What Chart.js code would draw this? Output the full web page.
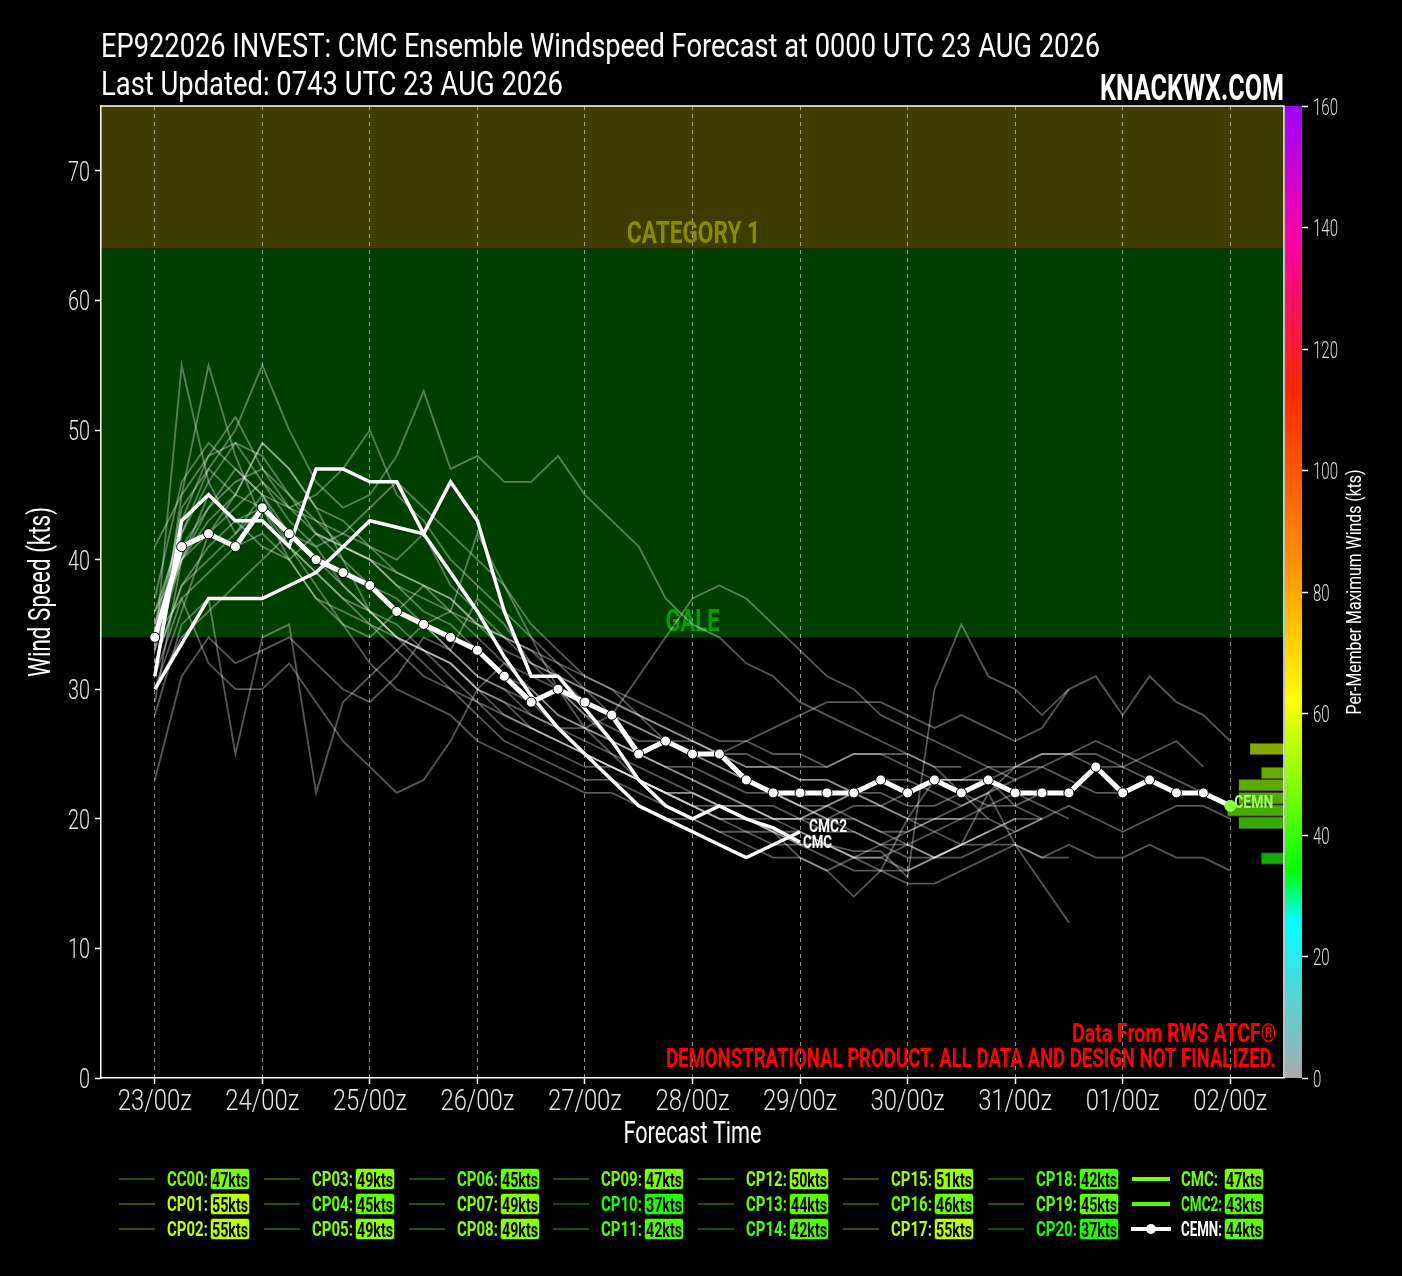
<!DOCTYPE html>
<html>
<head>
<meta charset="utf-8">
<title>EP922026 CMC Ensemble Windspeed Forecast</title>
<script src="https://cdn.jsdelivr.net/npm/chart.js@4.4.1/dist/chart.umd.min.js"></script>
<style>
  html, body { margin:0; padding:0; background:#000; }
  #wrap { position:relative; width:1402px; height:1276px; overflow:hidden; background:#000; }
  #c { position:absolute; left:0; top:0; }
  .ov { position:absolute; white-space:nowrap; line-height:1; transform-origin:0 0; font-family:Roboto,'DejaVu Sans',sans-serif; }
  .lgl { position:absolute; }
  .lgt { position:absolute; white-space:nowrap; line-height:1; font-weight:bold; font-size:20px; transform-origin:0 0;
         font-family:Roboto,'DejaVu Sans',sans-serif; }
  .lgb { position:absolute; box-sizing:border-box; width:40px; height:22px; border:1px solid rgba(0,0,0,0.75); border-radius:3px; overflow:hidden; }
  .lgb span { position:absolute; left:50%; top:1px; white-space:nowrap; line-height:1; font-weight:bold; font-size:20px; color:#000;
         font-family:Roboto,'DejaVu Sans',sans-serif; transform-origin:0 0; }
</style>
</head>
<body>
<div id="wrap">
  <canvas id="c" width="1402" height="1276"></canvas>
  <div class="ov" id="title1" style="left:101px;top:28px;font-size:34px;color:#fff;">EP922026 INVEST: CMC Ensemble Windspeed Forecast at 0000 UTC 23 AUG 2026</div>
  <div class="ov" id="title2" style="left:101px;top:66px;font-size:34px;color:#fff;">Last Updated: 0743 UTC 23 AUG 2026</div>
  <div class="ov" id="brand" style="left:1100px;top:69px;font-size:37px;font-weight:bold;color:#fff;">KNACKWX.COM</div>
  <div id="legend"></div>
</div>
<script>
// ---------------- DATA ----------------
const hours = [0,6,12,18,24,30,36,42,48,54,60,66,72,78,84,90,96,102,108,114,120,126,132,138,144,150,156,162,168,174,180,186,192,198,204,210,216,222,228,234,240];
const tickHours  = [0,24,48,72,96,120,144,168,192,216,240];
const tickLabels = ['23/00z','24/00z','25/00z','26/00z','27/00z','28/00z','29/00z','30/00z','31/00z','01/00z','02/00z'];
const yTickVals  = [0,10,20,30,40,50,60,70];
const cbarTicks  = [0,20,40,60,80,100,120,140,160];

const CC00 = [34,40,44,47,45,42,40,38,36,34,33,32,30,29,27,26,25,24,23,22,22,21,21,20,20,21,22,21,20,19,18,18,19,20,21,20,19,20,21,21,20];
const CP01 = [33,55,46,42,44,40,37,36,35,34,33,31,29,27,26,25,24,24,23,22,21,20,19,19,18,18,17,17,18,19,20,21,22,21,20];
const CP02 = [31,45,55,48,43,41,39,37,36,34,32,30,28,26,25,24,23,23,22,21,20,19,18,17,17,16,17,18,19,20,20];
const CP03 = [36,42,46,49,48,45,42,41,40,38,36,35,33,31,30,28,27,26,25,24,24,23,22,22,21,21,22,23,23,22,21,22,24,24,25,25,24,25,26,24];
const CP04 = [32,38,40,42,45,41,38,35,32,30,29,28,26,25,24,23,22,22,21,20,20,19,19,18,18,17,16,16,15,15,16,17,18,17,18,17,17,18,17,17,16];
const CP05 = [30,36,42,45,49,47,44,40,36,34,33,32,30,28,27,26,25,24,23,22,21,21,20,20,20,21,20,19,18,17,18,22,18,15,12];
const CP06 = [29,40,45,43,41,40,42,40,38,37,35,33,31,30,28,27,25,24,23,22,22,21,21,21,20,20,21,21,22,23,23,23,24,25,25,24,24,23];
const CP07 = [37,46,49,47,45,44,43,42,41,40,42,38,36,34,32,31,30,29,28,27,26,25,25,24,24,24,25,25,24,23,23,24,24,25,25,26,25,24,23,22,21];
const CP08 = [33,44,47,45,49,47,44,43,41,39,38,37,35,34,33,31,29,28,27,26,26,25,26,27,28,29,29,29,28,27,28,27,26,27,30];
const CP09 = [35,41,44,46,47,45,43,41,40,38,37,36,34,32,31,30,28,27,26,26,25,25,24,24,23,23,22,22,21,21,22,21,21,20];
const CP10 = [23,31,34,32,33,34,32,30,29,31,34,33,37,35,32,30,28,26,25,24,23,22,21,20,20,19,19,18,18,17,17,18,18,17,17];
const CP11 = [28,35,37,25,34,35,22,29,31,33,35,36,42,38,34,30,27,25,23,22,21,20,20,19,19,18,17,16,16,17,18,19];
const CP12 = [41,45,48,49,46,44,45,47,50,45,43,40,38,36,34,32,30,29,28,27,26,25,24,24,23,23,22,21,20,20,21,22,23,24,23,22,22];
const CP13 = [32,38,41,43,44,42,40,39,38,36,35,33,31,30,29,27,26,25,24,23,22,21,20,19,17,16,14,16,20,23,23,23,21,22];
const CP14 = [34,37,39,41,42,40,37,35,34,36,38,37,35,34,33,32,31,30,29,28,27,26,26,25,25,24,25,25,25,24,22,20,19,20];
const CP15 = [35,43,48,51,47,44,42,41,40,39,38,36,35,33,32,31,30,28,27,26,25,24,23,22,21,20,19,18,17,17,18,19,20];
const CP16 = [33,40,42,44,46,43,41,42,44,46,44,42,40,38,35,33,31,30,28,26,25,24,23,22,21,20,20,19,19,20,20,20];
const CP17 = [31,42,47,50,55,50,46,44,45,48,53,47,48,46,46,48,45,43,41,37,35,34,32,31,29,28,27,26,25,24,24];
const CP18 = [30,34,36,38,40,42,41,38,36,35,33,32,30,29,28,27,27,28,31,34,37,38,37,35,33,31,30,28,27,26,25,24,23];
const CP19 = [36,40,43,45,44,41,39,37,35,33,31,30,29,28,27,26,25,24,23,22,21,20,20,19,18,18,17.5,17.5,15.5,30,35,31,30,28,30,31,28,31,29,28,26];
const CP20 = [31,37,32,30,30,32,29,26,24,22,23,26,30,32,30,28,27,26,25,24,23,22,21,20,19,18,17,17,16,17,18,19,20,20];

const CMC  = [31,43,45,43,43,41,47,47,46,46,42,46,43,36,31,31,28.5,26,23,21,20,21,20,19.3,18.2];
const CMC2 = [30,33.5,37,37,37,38,39,41,43,42.5,42,39,36,32.5,29.5,27,25,23,21,20,19,18,17,18,19];
const CEMN = [34,41,42,41,44,42,40,39,38,36,35,34,33,31,29,30,29,28,25,26,25,25,23,22,22,22,22,23,22,23,22,23,22,22,22,24,22,23,22,22,21];

const memberNames = ['CC00','CP01','CP02','CP03','CP04','CP05','CP06','CP07','CP08','CP09','CP10','CP11','CP12','CP13','CP14','CP15','CP16','CP17','CP18','CP19','CP20'];
const memberSeries = [CC00,CP01,CP02,CP03,CP04,CP05,CP06,CP07,CP08,CP09,CP10,CP11,CP12,CP13,CP14,CP15,CP16,CP17,CP18,CP19,CP20];

// final-time distribution (right-hand histogram)
const histCenter = [25.85, 24.0, 23.05, 22.05, 21.1, 20.15, 17.4];
const histCount  = [3, 2, 4, 4, 5, 4, 2];

// threshold bands
const bandLow   = [34, 64];
const bandHigh  = [64, 75];
const bandNames = ['GALE', 'CATEGORY 1'];

// colour scale for per-member max winds
const cmapVals = [0, 26, 34, 62, 83, 96, 113, 137, 160];
const cmapCols = ['#aaaaaa','#00ffff','#00ff00','#ffff00','#ff9900','#ff6600','#ff2800','#ff00a0','#a000ff'];

// ---------------- helpers ----------------
const FONT = "Roboto, 'DejaVu Sans', sans-serif";
function hex2rgb(h){ return [parseInt(h.substr(1,2),16),parseInt(h.substr(3,2),16),parseInt(h.substr(5,2),16)]; }
function cmap(v, a){
  let i = 0;
  while (i < cmapVals.length - 2 && v > cmapVals[i+1]) i++;
  const t = Math.max(0, Math.min(1, (v - cmapVals[i]) / (cmapVals[i+1] - cmapVals[i])));
  const c0 = hex2rgb(cmapCols[i]), c1 = hex2rgb(cmapCols[i+1]);
  const c = c0.map((x,k)=>Math.round(x + (c1[k]-x)*t));
  return a === undefined ? `rgb(${c[0]},${c[1]},${c[2]})` : `rgba(${c[0]},${c[1]},${c[2]},${a})`;
}
function pts(arr){ return arr.map((v,i)=>({x:hours[i], y:v})); }
function fitText(ctx, text, x, y, w, font, color, align){
  ctx.save();
  ctx.font = font; ctx.fillStyle = color; ctx.textBaseline = 'alphabetic'; ctx.textAlign = align;
  const s = w / ctx.measureText(text).width;
  ctx.translate(x, y); ctx.scale(s, 1); ctx.fillText(text, 0, 0);
  ctx.restore();
}
function scaledText(ctx, text, x, y, s, font, color, align){
  ctx.save();
  ctx.font = font; ctx.fillStyle = color; ctx.textBaseline = 'alphabetic'; ctx.textAlign = align;
  ctx.translate(x, y); ctx.scale(s, 1); ctx.fillText(text, 0, 0);
  ctx.restore();
}
function squeeze(ctx, sample, w, font){ ctx.save(); ctx.font = font; const m = ctx.measureText(sample).width; ctx.restore(); return w / m; }

// ---------------- datasets ----------------
const datasets = [];
datasets.push({
  type:'line', label:'CEMN', data: pts(CEMN), order:0,
  borderColor:'#ffffff', borderWidth:5, tension:0,
  pointRadius: CEMN.map((v,i)=> i===CEMN.length-1 ? 5.5 : 5),
  pointBackgroundColor: CEMN.map((v,i)=> i===CEMN.length-1 ? '#88ff44' : '#ffffff'),
  pointBorderColor: CEMN.map((v,i)=> i===CEMN.length-1 ? '#88ff44' : '#000000'),
  pointBorderWidth: 1
});
datasets.push({ type:'line', label:'CMC', data: pts(CMC), order:1, borderColor:'#ffffff', borderWidth:3.5, pointRadius:0, tension:0 });
datasets.push({ type:'line', label:'CMC2', data: pts(CMC2), order:2, borderColor:'#ffffff', borderWidth:3.5, pointRadius:0, tension:0 });
memberSeries.forEach((s,k)=>{
  datasets.push({ type:'line', label:memberNames[k], data: pts(s), order:10+k,
    borderColor:'rgba(255,255,255,0.34)', borderWidth:1.8, pointRadius:0, tension:0 });
});
datasets.push({
  type:'bar', label:'final', indexAxis:'y', xAxisID:'xh', yAxisID:'y', order:50,
  data: histCenter.map((c,i)=>({y:c, x:histCount[i]})),
  backgroundColor: ['#88aa00','#66aa00','#5caa00','#52aa00','#46aa00','#38aa00','#14aa00'],
  borderColor:'rgba(255,255,255,0.22)', borderWidth:{top:1,bottom:1,left:0,right:0},
  barThickness:12, borderSkipped:false
});

// ---------------- plugins ----------------
const decor = {
  id:'decor',
  beforeDraw(chart){
    const {ctx, chartArea:a, scales:{y}} = chart;
    const cols = ['#003f00', '#3f3c00'];
    ctx.save();
    bandLow.forEach((lo,i)=>{
      const yt = y.getPixelForValue(bandHigh[i]), yb = y.getPixelForValue(lo);
      ctx.fillStyle = cols[i];
      ctx.fillRect(a.left, yt, a.right - a.left, yb - yt);
    });
    ctx.restore();
  },
  beforeDatasetsDraw(chart){
    const {ctx, chartArea:a, scales:{y}} = chart;
    const cx = (a.left + a.right) / 2;
    fitText(ctx, bandNames[1], cx + 1, y.getPixelForValue(bandLow[1]) - 6, 133, 'bold 31px ' + FONT, '#8c8a00', 'center');
    fitText(ctx, bandNames[0], cx, y.getPixelForValue(bandLow[0]) - 6, 54, 'bold 31px ' + FONT, '#00a000', 'center');
  },
  afterDatasetsDraw(chart){
    const {ctx} = chart;
    const lab = [
      {ds:'CMC',  text:'CMC',  dx:3, dy:6,  w:29, col:'#ffffff'},
      {ds:'CMC2', text:'CMC2', dx:9, dy:0,  w:38, col:'#ffffff'},
      {ds:'CEMN', text:'CEMN', dx:4, dy:2,  w:39, col:'#99ff66'}
    ];
    lab.forEach(l=>{
      const idx = chart.data.datasets.findIndex(d=>d.label===l.ds);
      const meta = chart.getDatasetMeta(idx);
      const p = meta.data[meta.data.length-1];
      fitText(ctx, l.text, p.x + l.dx, p.y + l.dy, l.w, 'bold 18px ' + FONT, l.col, 'left');
    });
  },
  afterDraw(chart){
    const {ctx, chartArea:a, scales} = chart;
    const {x, y, yc} = scales;
    ctx.save();
    ctx.strokeStyle = '#ffffff'; ctx.lineWidth = 1.5;
    ctx.beginPath(); ctx.moveTo(a.left, a.top); ctx.lineTo(a.right, a.top); ctx.lineTo(a.right, a.bottom); ctx.stroke();
    const y0 = yc.getPixelForValue(0), y1 = yc.getPixelForValue(160);
    const g = ctx.createLinearGradient(0, y0, 0, y1);
    cmapVals.forEach((v,i)=> g.addColorStop(v/160, cmapCols[i]));
    ctx.fillStyle = g;
    ctx.fillRect(a.right + 1, y1, yc.left - a.right - 1, y0 - y1);
    ctx.restore();

    const fx = '300 30px ' + FONT, fy = '300 28px ' + FONT, fc = '300 24px ' + FONT;
    const sx = squeeze(ctx, '23/00z', 74, fx), sy = squeeze(ctx, '70', 22, fy), sc = squeeze(ctx, '160', 25, fc);
    tickHours.forEach((h,i)=> scaledText(ctx, tickLabels[i], x.getPixelForValue(h), a.bottom + 32, sx, fx, '#e6e6e6', 'center'));
    yTickVals.forEach(v=> scaledText(ctx, String(v), a.left - 11, y.getPixelForValue(v) + 10, sy, fy, '#e6e6e6', 'right'));
    cbarTicks.forEach(v=> scaledText(ctx, String(v), yc.left + 11, yc.getPixelForValue(v) + 8.5, sc, fc, '#dddddd', 'left'));

    fitText(ctx, 'Forecast Time', (a.left + a.right) / 2, a.bottom + 65, 138, '31px ' + FONT, '#ffffff', 'center');
    ctx.save();
    ctx.translate(50, (a.top + a.bottom) / 2); ctx.rotate(-Math.PI/2);
    fitText(ctx, 'Wind Speed (kts)', 0, 0, 170, '31px ' + FONT, '#ffffff', 'center');
    ctx.restore();
    ctx.save();
    ctx.translate(1361, (a.top + a.bottom) / 2); ctx.rotate(-Math.PI/2);
    fitText(ctx, 'Per-Member Maximum Winds (kts)', 0, 0, 245, '21px ' + FONT, '#ffffff', 'center');
    ctx.restore();

    fitText(ctx, 'Data From RWS ATCF®', a.right - 8, a.bottom - 36, 204, 'bold 25px ' + FONT, '#ff0000', 'right');
    fitText(ctx, 'DEMONSTRATIONAL PRODUCT. ALL DATA AND DESIGN NOT FINALIZED.', a.right - 8, a.bottom - 11, 610, 'bold 25px ' + FONT, '#ff0000', 'right');
  }
};

// ---------------- chart ----------------
new Chart(document.getElementById('c'), {
  type:'line',
  data:{ datasets },
  plugins:[decor],
  options:{
    responsive:false, animation:false, devicePixelRatio:1, events:[],
    layout:{ padding:{ top:106, left:0, right:0, bottom:0 } },
    plugins:{ legend:{display:false}, tooltip:{enabled:false}, title:{display:false} },
    scales:{
      x:{
        type:'linear', position:'bottom', min:-12, max:252, offset:false,
        afterBuildTicks: s => { s.ticks = tickHours.map(v=>({value:v})); },
        afterFit: s => { s.height = 198; },
        ticks:{ display:false },
        grid:{ color:'rgba(255,255,255,0.55)', lineWidth:1, drawTicks:true, tickLength:6, tickColor:'#ffffff', tickWidth:1.5, offset:false },
        border:{ color:'#ffffff', width:1.5, dash:[4,4] },
        title:{ display:false }
      },
      xh:{
        type:'linear', axis:'x', position:'bottom', display:false, reverse:true, min:0, max:104.7, offset:false
      },
      y:{
        type:'linear', position:'left', min:0, max:75, offset:false,
        afterBuildTicks: s => { s.ticks = yTickVals.map(v=>({value:v})); },
        afterFit: s => { s.width = 101; },
        ticks:{ display:false },
        grid:{ drawOnChartArea:false, drawTicks:true, tickLength:6, tickColor:'#ffffff', tickWidth:1.5, offset:false },
        border:{ color:'#ffffff', width:1.5 },
        title:{ display:false }
      },
      ygap:{
        type:'linear', axis:'y', position:'right', weight:0, display:true,
        afterFit: s => { s.width = 18; },
        ticks:{ display:false }, grid:{ display:false, drawTicks:false }, border:{ display:false }
      },
      yc:{
        type:'linear', axis:'y', position:'right', weight:1, min:0, max:160, offset:false,
        afterBuildTicks: s => { s.ticks = cbarTicks.map(v=>({value:v})); },
        afterFit: s => { s.width = 100; },
        ticks:{ display:false },
        grid:{ drawOnChartArea:false, drawTicks:true, tickLength:6, tickColor:'#ffffff', tickWidth:1.5, offset:false },
        border:{ display:false }
      }
    }
  }
});

// ---------------- HTML title fit ----------------
function fitEl(el, w, rightEdge){
  const r = el.getBoundingClientRect().width;
  el.style.transform = `scaleX(${w / r})`;
  if (rightEdge !== undefined) el.style.left = (rightEdge - w) + 'px';
}
fitEl(document.getElementById('title1'), 999);
fitEl(document.getElementById('title2'), 462);
fitEl(document.getElementById('brand'), 184, 1284);

// ---------------- legend ----------------
const mctx = document.createElement('canvas').getContext('2d');
const LFONT = 'bold 20px ' + FONT;
const labScale = squeeze(mctx, 'CC00:', 41, LFONT);
const boxScale = squeeze(mctx, '47kts', 36, LFONT);
const legNames = memberNames.concat(['CMC','CMC2','CEMN']);
const legSeries = memberSeries.concat([CMC, CMC2, CEMN]);
const lg = document.getElementById('legend');
legNames.forEach((n,k)=>{
  const col = Math.floor(k/3), row = k % 3;
  const x0 = 119 + col*144.8, yc = 1179 + row*25;
  const mx = Math.round(Math.max(...legSeries[k]));
  const line = document.createElement('div');
  line.className = 'lgl';
  if (n === 'CEMN') {
    line.style.cssText = `left:${x0-2}px;top:${yc-2}px;width:40px;height:4px;background:#fff;`;
    const dot = document.createElement('div');
    dot.className = 'lgl';
    dot.style.cssText = `left:${x0+13}px;top:${yc-5}px;width:10px;height:10px;border-radius:5px;background:#fff;`;
    lg.appendChild(dot);
  } else if (n === 'CMC' || n === 'CMC2') {
    line.style.cssText = `left:${x0-1}px;top:${yc-2}px;width:38px;height:4px;background:${cmap(mx)};`;
  } else {
    line.style.cssText = `left:${x0}px;top:${yc-1}px;width:36px;height:2px;background:${cmap(mx,0.32)};`;
  }
  lg.appendChild(line);
  const txt = n + ':';
  const t = document.createElement('div');
  t.className = 'lgt';
  t.textContent = txt;
  t.style.left = (x0 + 48) + 'px';
  t.style.top = (yc - 10) + 'px';
  t.style.color = n === 'CEMN' ? '#ffffff' : cmap(mx);
  t.style.transform = `scaleX(${Math.min(labScale, squeeze(mctx, txt, 41, LFONT))})`;
  lg.appendChild(t);
  const b = document.createElement('div');
  b.className = 'lgb';
  b.style.left = (x0 + 91) + 'px';
  b.style.top = (yc - 11) + 'px';
  b.style.background = cmap(mx);
  const sp = document.createElement('span');
  sp.textContent = mx + 'kts';
  sp.style.transform = `scaleX(${boxScale}) translateX(-50%)`;
  b.appendChild(sp);
  lg.appendChild(b);
});
</script>
</body>
</html>
